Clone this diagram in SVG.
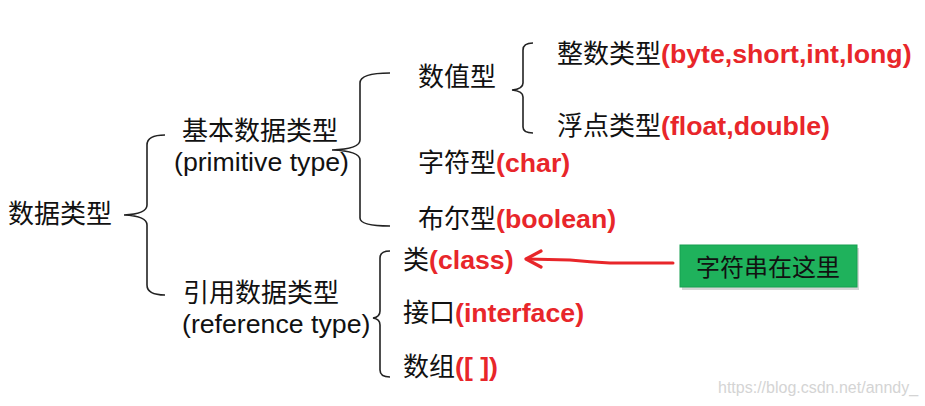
<svg xmlns="http://www.w3.org/2000/svg" width="925" height="406" viewBox="0 0 925 406">
<style>
.t{font-family:"Liberation Sans","Noto Sans CJK SC",sans-serif;font-size:26px;fill:#111}
.e{font-size:26.7px}
.r{fill:#e8262a;font-weight:bold;font-size:26.7px}
.b{fill:none;stroke:#222;stroke-width:1.6}
.w{font-family:"Liberation Sans",sans-serif;font-size:16px;fill:#d4d4d4}
</style>
<rect width="925" height="406" fill="#fff"/>
<g id="connectors">
<path class="b" d="M165,135 Q147,135 147,145 L147,205 Q147,214 124,215 Q147,216 147,225 L147,285 Q147,295 165,295"/>
<path class="b" d="M390,73 Q360,73 360,83 L360,140 Q360,149 332,150 Q360,151 360,160 L360,218 Q360,226 390,226"/>
<path class="b" d="M533,43 Q523,43 523,50 L523,83 Q523,89 512,90 Q523,91 523,97 L523,127 Q523,133 533,133"/>
<path class="b" d="M390,251 Q380,251 380,258 L380,311 Q380,317 373,318 Q380,319 380,325 L380,370 Q380,377 390,377"/>
<path d="M673,263 L610,263 Q590,262 570,260 L527,259" fill="none" stroke="#e8262a" stroke-width="3" stroke-linecap="round"/>
<path d="M541,251 L526,259 L541,267" fill="none" stroke="#e8262a" stroke-width="3.2" stroke-linecap="round" stroke-linejoin="round"/>
</g>
<g id="root"><text class="t" x="8" y="223">数据类型</text></g>
<g id="primitive"><text class="t" x="182" y="140">基本数据类型</text><text class="t e" x="174" y="171">(primitive type)</text></g>
<g id="reference"><text class="t" x="183" y="302">引用数据类型</text><text class="t e" x="182" y="333">(reference type)</text></g>
<g id="numeric"><text class="t" x="418" y="86">数值型</text></g>
<g id="integer"><text class="t" x="557" y="63">整数类型<tspan class="r">(byte,short,int,long)</tspan></text></g>
<g id="float"><text class="t" x="557" y="135">浮点类型<tspan class="r">(float,double)</tspan></text></g>
<g id="char"><text class="t" x="418" y="172">字符型<tspan class="r">(char)</tspan></text></g>
<g id="boolean"><text class="t" x="418" y="228">布尔型<tspan class="r">(boolean)</tspan></text></g>
<g id="class"><text class="t" x="403" y="269">类<tspan class="r">(class)</tspan></text></g>
<g id="interface"><text class="t" x="403" y="322">接口<tspan class="r">(interface)</tspan></text></g>
<g id="array"><text class="t" x="403" y="376">数组<tspan class="r">([ ])</tspan></text></g>
<g id="note">
<rect x="682" y="248" width="177" height="42" fill="#bbb" opacity="0.6"/>
<rect x="680" y="245" width="177" height="42" fill="#1fb25c" stroke="#17a050" stroke-width="1"/>
<text class="t" x="696" y="276" style="font-size:24px">字符串在这里</text>
</g>
<text class="w" x="718" y="393">https://blog.csdn.net/anndy_</text>
</svg>
